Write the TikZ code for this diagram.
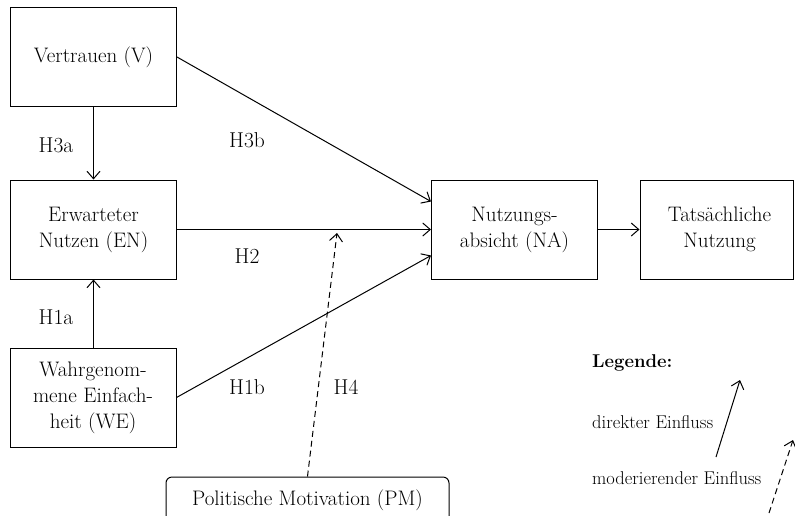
\documentclass[tikz,border=0pt]{standalone}
\usetikzlibrary{arrows.meta,positioning,calc}
\begin{document}
\begin{tikzpicture}[x=1pt,y=-1pt,
  box/.style={draw,line width=1pt,minimum width=166pt,minimum height=99pt,align=center,inner sep=2pt,font=\fontsize{21}{26}\selectfont},
  lab/.style={font=\fontsize{21.5}{24}\selectfont,inner sep=0pt},
  leg/.style={font=\fontsize{18.5}{20}\selectfont,inner sep=0pt,anchor=west},
  arr/.style={line width=1pt,-{Straight Barb[length=7.5pt,width=13pt,line width=1pt]}},
  darr/.style={arr,dash pattern=on 6pt off 4pt}]
\useasboundingbox (0,0) rectangle (795,515);
\clip (0,0) rectangle (795,515);
\node[box] (V) at (93.5,57) {Vertrauen (V)};
\node[box] (EN) at (93.5,229.5) {Erwarteter\\Nutzen (EN)};
\node[box] (WE) at (93,397.5) {Wahrgenom-\\mene Einfach-\\heit (WE)};
\node[box] (NA) at (514.5,229.5) {Nutzungs-\\absicht (NA)};
\node[box,minimum width=153pt] (TN) at (716.5,229.5) {\hspace*{6pt}Tats\"achliche\\\hspace*{6pt}Nutzung};
\node[draw,line width=1pt,rounded corners=6pt,minimum width=283pt,minimum height=46pt,font=\fontsize{21}{24}\selectfont] (PM) at (307.5,500) {\raisebox{3pt}{Politische Motivation (PM)}};
\coordinate (mod) at (337,233);
\draw[arr] (V.south) -- (EN.north);
\draw[arr] (WE.north -| EN.south) -- (EN.south);
\draw[arr] (V.east) -- ([yshift=28pt]NA.west);
\draw[arr] (EN.east) -- (NA.west);
\draw[arr] (WE.east) -- ([yshift=-26pt]NA.west);
\draw[arr] (NA.east) -- (TN.west);
\draw[darr] (PM.north) -- (mod);
\node[lab] (h3a) at (56,145) {H3a};
\node[lab] (h3b) at (247,140) {H3b};
\node[lab] (h2) at (247,256) {H2};
\node[lab] (h1a) at (56,317) {H1a};
\node[lab] (h1b) at (247,387) {H1b};
\node[lab] (h4) at (346,387) {H4};
\node[leg,font=\fontsize{18.5}{20}\selectfont\bfseries] (lg) at (592,363) {Legende:};
\node[leg] (ld) at (592,422) {direkter Einfluss};
\node[leg] (lm) at (592,478) {moderierender Einfluss};
\coordinate (a1) at (716,457);
\coordinate (a2) at (740,380);
\coordinate (b1) at (769,513);
\coordinate (b2) at (793,440);
\draw[arr] (a1) -- (a2);
\draw[darr] (b1) -- (b2);
\end{tikzpicture}
\end{document}
